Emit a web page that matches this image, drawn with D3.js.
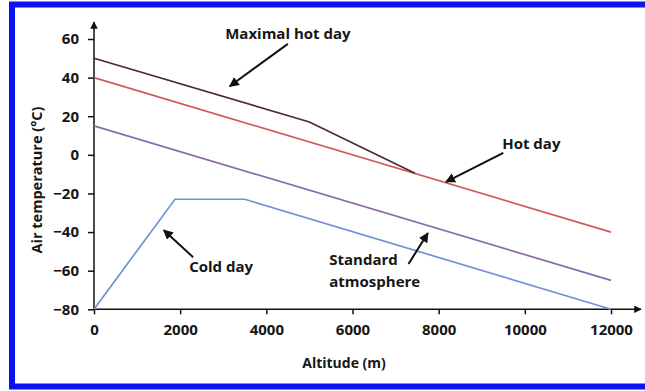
<!DOCTYPE html>
<html>
<head>
<meta charset="utf-8">
<script src="https://cdn.jsdelivr.net/npm/d3@7"></script>
<style>
  body { margin: 0; background: #fff; }
  svg { display: block; }
  text { font-family: "Open Sans", sans-serif; font-weight: 700; fill: #161616; }
</style>
</head>
<body>
<svg id="chart" width="645" height="391"></svg>
<script>
// axis ticks
const altTicks = [0, 2000, 4000, 6000, 8000, 10000, 12000];
const tempTicks = [-80, -60, -40, -20, 0, 20, 40, 60];

// series: [altitude (m), temperature (°C)]
const maxHotDay = [[0, 50], [5000, 17], [7450, -9.5]];
const hotDay = [[0, 40], [12000, -40]];
const standardAtm = [[0, 15], [12000, -65]];
const coldDay = [[0, -80], [1880, -23], [3500, -23], [12000, -80]];

// annotation arrows: [altitude, temp] tail -> head
const labels = [
  { text: ["Maximal hot day"], at: [4500, 60], anchor: "middle", from: [4500, 57.5], to: [3150, 35.5] },
  { text: ["Hot day"], at: [10150, 3], anchor: "middle", from: [9500, 1], to: [8170, -14] },
  { text: ["Cold day"], at: [2950, -60.5], anchor: "middle", from: [2300, -53], to: [1620, -39] },
  { text: ["Standard", "atmosphere"], at: [5460, -57], anchor: "start", from: [7300, -56.5], to: [7750, -40.5] }
];

const svg = d3.select("#chart");

// blue frame
svg.append("rect")
    .attr("x", 12).attr("y", 4.5)
    .attr("width", 700).attr("height", 382)
    .attr("fill", "none")
    .attr("stroke", "#0a14f0")
    .attr("stroke-width", 6);

const x = d3.scaleLinear().domain([0, 12000]).range([94, 611]);
const y = d3.scaleLinear().domain([-80, 60]).range([309.3, 39]);

// arrow marker
svg.append("defs").append("marker")
    .attr("id", "arrow")
    .attr("viewBox", "0 0 10 10")
    .attr("refX", 9).attr("refY", 5)
    .attr("markerWidth", 5).attr("markerHeight", 5)
    .attr("orient", "auto")
  .append("path")
    .attr("d", "M0,0 L10,5 L0,10 Z")
    .attr("fill", "#111");

// y axis
const yAxis = svg.append("g")
    .attr("transform", `translate(${x(0)},0)`)
    .call(d3.axisLeft(y).tickValues(tempTicks).tickSize(6).tickPadding(9));
yAxis.select(".domain").remove();
yAxis.append("line")
    .attr("x1", 0).attr("x2", 0)
    .attr("y1", y(-80)).attr("y2", 22)
    .attr("stroke", "#111").attr("stroke-width", 1.5)
    .attr("marker-end", "url(#arrow)");

// x axis
const xAxis = svg.append("g")
    .attr("transform", `translate(0,${y(-80)})`)
    .call(d3.axisBottom(x).tickValues(altTicks).tickSize(5).tickPadding(10).tickFormat(d3.format("d")));
xAxis.select(".domain").remove();
xAxis.append("line")
    .attr("x1", x(0)).attr("x2", 641)
    .attr("y1", 0).attr("y2", 0)
    .attr("stroke", "#111").attr("stroke-width", 1.5)
    .attr("marker-end", "url(#arrow)");

svg.selectAll(".tick line").attr("stroke", "#111").attr("stroke-width", 1.5);
svg.selectAll(".tick text")
    .attr("font-family", "Open Sans, sans-serif")
    .attr("font-weight", 700)
    .attr("font-size", 15)
    .attr("fill", "#161616");

// axis titles
svg.append("text")
    .attr("x", 344).attr("y", 368)
    .attr("text-anchor", "middle")
    .attr("font-size", 14)
    .text("Altitude (m)");

svg.append("text")
    .attr("transform", "translate(42,180) rotate(-90)")
    .attr("text-anchor", "middle")
    .attr("font-size", 14.5)
    .text("Air temperature (°C)");

// lines
const line = d3.line().x(d => x(d[0])).y(d => y(d[1]));
const series = [
  { data: coldDay, color: "#6f93d2" },
  { data: standardAtm, color: "#8a6aae" },
  { data: hotDay, color: "#d05a58" },
  { data: maxHotDay, color: "#4b2b2b" }
];
svg.append("g").selectAll("path")
  .data(series)
  .join("path")
    .attr("d", d => line(d.data))
    .attr("fill", "none")
    .attr("stroke", d => d.color)
    .attr("stroke-width", 1.7);

// annotations
labels.forEach(l => {
  const t = svg.append("text")
      .attr("x", x(l.at[0])).attr("y", y(l.at[1]))
      .attr("text-anchor", l.anchor)
      .attr("font-size", 15);
  l.text.forEach((s, i) => {
    t.append("tspan").attr("x", x(l.at[0])).attr("dy", i ? 22 : 0).text(s);
  });
  svg.append("line")
      .attr("x1", x(l.from[0])).attr("y1", y(l.from[1]))
      .attr("x2", x(l.to[0])).attr("y2", y(l.to[1]))
      .attr("stroke", "#111").attr("stroke-width", 2)
      .attr("marker-end", "url(#arrow)");
});
</script>
</body>
</html>
